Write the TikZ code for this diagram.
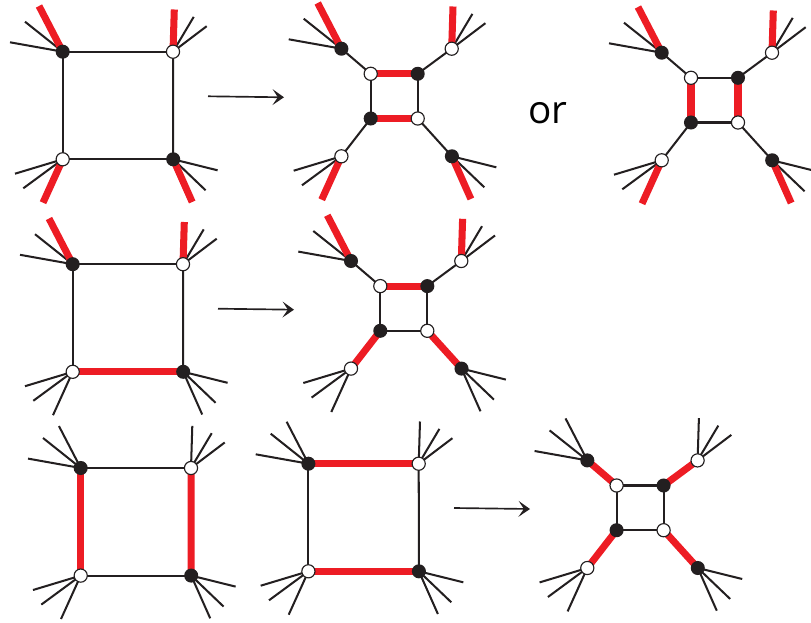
\documentclass[tikz,border=0pt]{standalone}
\usepackage{fontspec}
\setmainfont{Open Sans}
\usetikzlibrary{arrows.meta,backgrounds}

\definecolor{inkred}{HTML}{ED1C24}
\definecolor{inkblack}{HTML}{231F20}

\tikzset{
    blacknode/.style={circle,fill=inkblack,inner sep=0pt,minimum size=8pt},
    whitenode/.style={circle,draw=inkblack,fill=white,line width=0.65pt,inner sep=0pt,minimum size=7.5pt},
    spoke/.style={draw=inkblack,line width=1.15pt},
    shortspoke/.style={spoke,shorten >=2.4pt},
    redspoke/.style={draw=inkred,line width=4pt},
    mapsto/.style={draw=inkblack,line width=0.95pt,-{Stealth[length=6.5pt,width=9pt,inset=3pt]}}
}

% the four outer vertices, with the long spoke of each one given as a style
\newcommand{\fans}[4]{
    \node [blacknode] (tl) at (62.7,51.7) {};
    \node [whitenode] (tr) at (173,51.7) {};
    \node [whitenode] (bl) at (62.7,159.3) {};
    \node [blacknode] (br) at (173.2,159.3) {};
    \begin{scope}[on background layer]
        \foreach \dx/\dy/\sty [count=\i] in {-52.7/-9.4/spoke,-37.7/-30/spoke,-23.7/-45.7/#1} {
            \coordinate (tl\i) at ([shift={(\dx,\dy)}]tl.center);
            \draw [\sty] (tl.center) -- (tl\i);
        }
        \foreach \dx/\dy/\sty [count=\i] in {33.7/-25.5/spoke,20.7/-34.8/spoke,1.3/-42.2/#2} {
            \coordinate (tr\i) at ([shift={(\dx,\dy)}]tr.center);
            \draw [\sty] (tr.center) -- (tr\i);
        }
        \foreach \dx/\dy/\sty [count=\i] in {-47.7/14.4/spoke,-39.4/29/spoke,-19.7/43.4/#3} {
            \coordinate (bl\i) at ([shift={(\dx,\dy)}]bl.center);
            \draw [\sty] (bl.center) -- (bl\i);
        }
        \foreach \dx/\dy/\sty [count=\i] in {44.4/11/spoke,32.4/31/spoke,19/42.7/#4} {
            \coordinate (br\i) at ([shift={(\dx,\dy)}]br.center);
            \draw [\sty] (br.center) -- (br\i);
        }
    \end{scope}
}

% the small square in the middle, its colours are opposite to the outer ones
\newcommand{\smallsquare}{
    \node [whitenode] (itl) at (92,76.8) {};
    \node [blacknode] (itr) at (139,76.8) {};
    \node [blacknode] (ibl) at (92,121.5) {};
    \node [whitenode] (ibr) at (139,121.5) {};
}

\begin{document}
\begin{tikzpicture}[x=0.02cm,y=-0.02cm]
    \useasboundingbox (0,0) rectangle (811,622);

    % top row
    \begin{scope}[name prefix=a-]
        \fans{redspoke}{redspoke}{redspoke}{redspoke}
        \begin{scope}[on background layer]
            \draw [spoke] (tl.center) -- (tr.center);
            \draw [spoke] (bl.center) -- (br.center);
            \draw [spoke] (tl.center) -- (bl.center);
            \draw [spoke] (tr.center) -- (br.center);
        \end{scope}
    \end{scope}
    \begin{scope}[shift={(278.7,-3)},name prefix=b-]
        \fans{redspoke}{redspoke}{redspoke}{redspoke}
        \smallsquare
        \begin{scope}[on background layer]
            \draw [spoke] (tl.center) -- (itl.center);
            \draw [spoke] (tr.center) -- (itr.center);
            \draw [spoke] (bl.center) -- (ibl.center);
            \draw [spoke] (br.center) -- (ibr.center);
            \draw [redspoke] (itl.center) -- (itr.center);
            \draw [redspoke] (ibl.center) -- (ibr.center);
            \draw [spoke] (itl.center) -- (ibl.center);
            \draw [spoke] (itr.center) -- (ibr.center);
        \end{scope}
    \end{scope}
    \begin{scope}[shift={(599,1)},name prefix=c-]
        \fans{redspoke}{redspoke}{redspoke}{redspoke}
        \smallsquare
        \begin{scope}[on background layer]
            \draw [spoke] (tl.center) -- (itl.center);
            \draw [spoke] (tr.center) -- (itr.center);
            \draw [spoke] (bl.center) -- (ibl.center);
            \draw [spoke] (br.center) -- (ibr.center);
            \draw [spoke] (itl.center) -- (itr.center);
            \draw [spoke] (ibl.center) -- (ibr.center);
            \draw [redspoke] (itl.center) -- (ibl.center);
            \draw [redspoke] (itr.center) -- (ibr.center);
        \end{scope}
    \end{scope}

    \coordinate (from1) at (208,96.3);
    \coordinate (to1) at (284,97.3);
    \draw [mapsto] (from1) -- (to1);
    \node (ortext) at (547.8,113) {\fontsize{22}{26}\selectfont or};

    % middle row
    \begin{scope}[shift={(10,212.5)},name prefix=d-]
        \fans{redspoke}{redspoke}{spoke}{spoke}
        \begin{scope}[on background layer]
            \draw [spoke] (tl.center) -- (tr.center);
            \draw [redspoke] (bl.center) -- (br.center);
            \draw [spoke] (tl.center) -- (bl.center);
            \draw [spoke] (tr.center) -- (br.center);
        \end{scope}
    \end{scope}
    \begin{scope}[shift={(288.3,209.3)},name prefix=e-]
        \fans{redspoke}{redspoke}{spoke}{spoke}
        \smallsquare
        \begin{scope}[on background layer]
            \draw [spoke] (tl.center) -- (itl.center);
            \draw [spoke] (tr.center) -- (itr.center);
            \draw [redspoke] (bl.center) -- (ibl.center);
            \draw [redspoke] (br.center) -- (ibr.center);
            \draw [redspoke] (itl.center) -- (itr.center);
            \draw [spoke] (ibl.center) -- (ibr.center);
            \draw [spoke] (itl.center) -- (ibl.center);
            \draw [spoke] (itr.center) -- (ibr.center);
        \end{scope}
    \end{scope}

    \coordinate (from2) at (218,308.7);
    \coordinate (to2) at (294,309.7);
    \draw [mapsto] (from2) -- (to2);

    % bottom row
    \begin{scope}[shift={(18,416.3)},name prefix=f-]
        \fans{shortspoke}{spoke}{spoke}{spoke}
        \begin{scope}[on background layer]
            \draw [spoke] (tl.center) -- (tr.center);
            \draw [spoke] (bl.center) -- (br.center);
            \draw [redspoke] (tl.center) -- (bl.center);
            \draw [redspoke] (tr.center) -- (br.center);
        \end{scope}
    \end{scope}
    \begin{scope}[shift={(245.7,412)},name prefix=g-]
        \fans{shortspoke}{spoke}{spoke}{spoke}
        \begin{scope}[on background layer]
            \draw [redspoke] (tl.center) -- (tr.center);
            \draw [redspoke] (bl.center) -- (br.center);
            \draw [spoke] (tl.center) -- (bl.center);
            \draw [spoke] (tr.center) -- (br.center);
        \end{scope}
    \end{scope}
    \begin{scope}[shift={(524.6,408.7)},name prefix=h-]
        \fans{shortspoke}{spoke}{spoke}{spoke}
        \smallsquare
        \begin{scope}[on background layer]
            \draw [redspoke] (tl.center) -- (itl.center);
            \draw [redspoke] (tr.center) -- (itr.center);
            \draw [redspoke] (bl.center) -- (ibl.center);
            \draw [redspoke] (br.center) -- (ibr.center);
            \draw [spoke] (itl.center) -- (itr.center);
            \draw [spoke] (ibl.center) -- (ibr.center);
            \draw [spoke] (itl.center) -- (ibl.center);
            \draw [spoke] (itr.center) -- (ibr.center);
        \end{scope}
    \end{scope}

    \coordinate (from3) at (454,508);
    \coordinate (to3) at (530,509);
    \draw [mapsto] (from3) -- (to3);
\end{tikzpicture}
\end{document}
